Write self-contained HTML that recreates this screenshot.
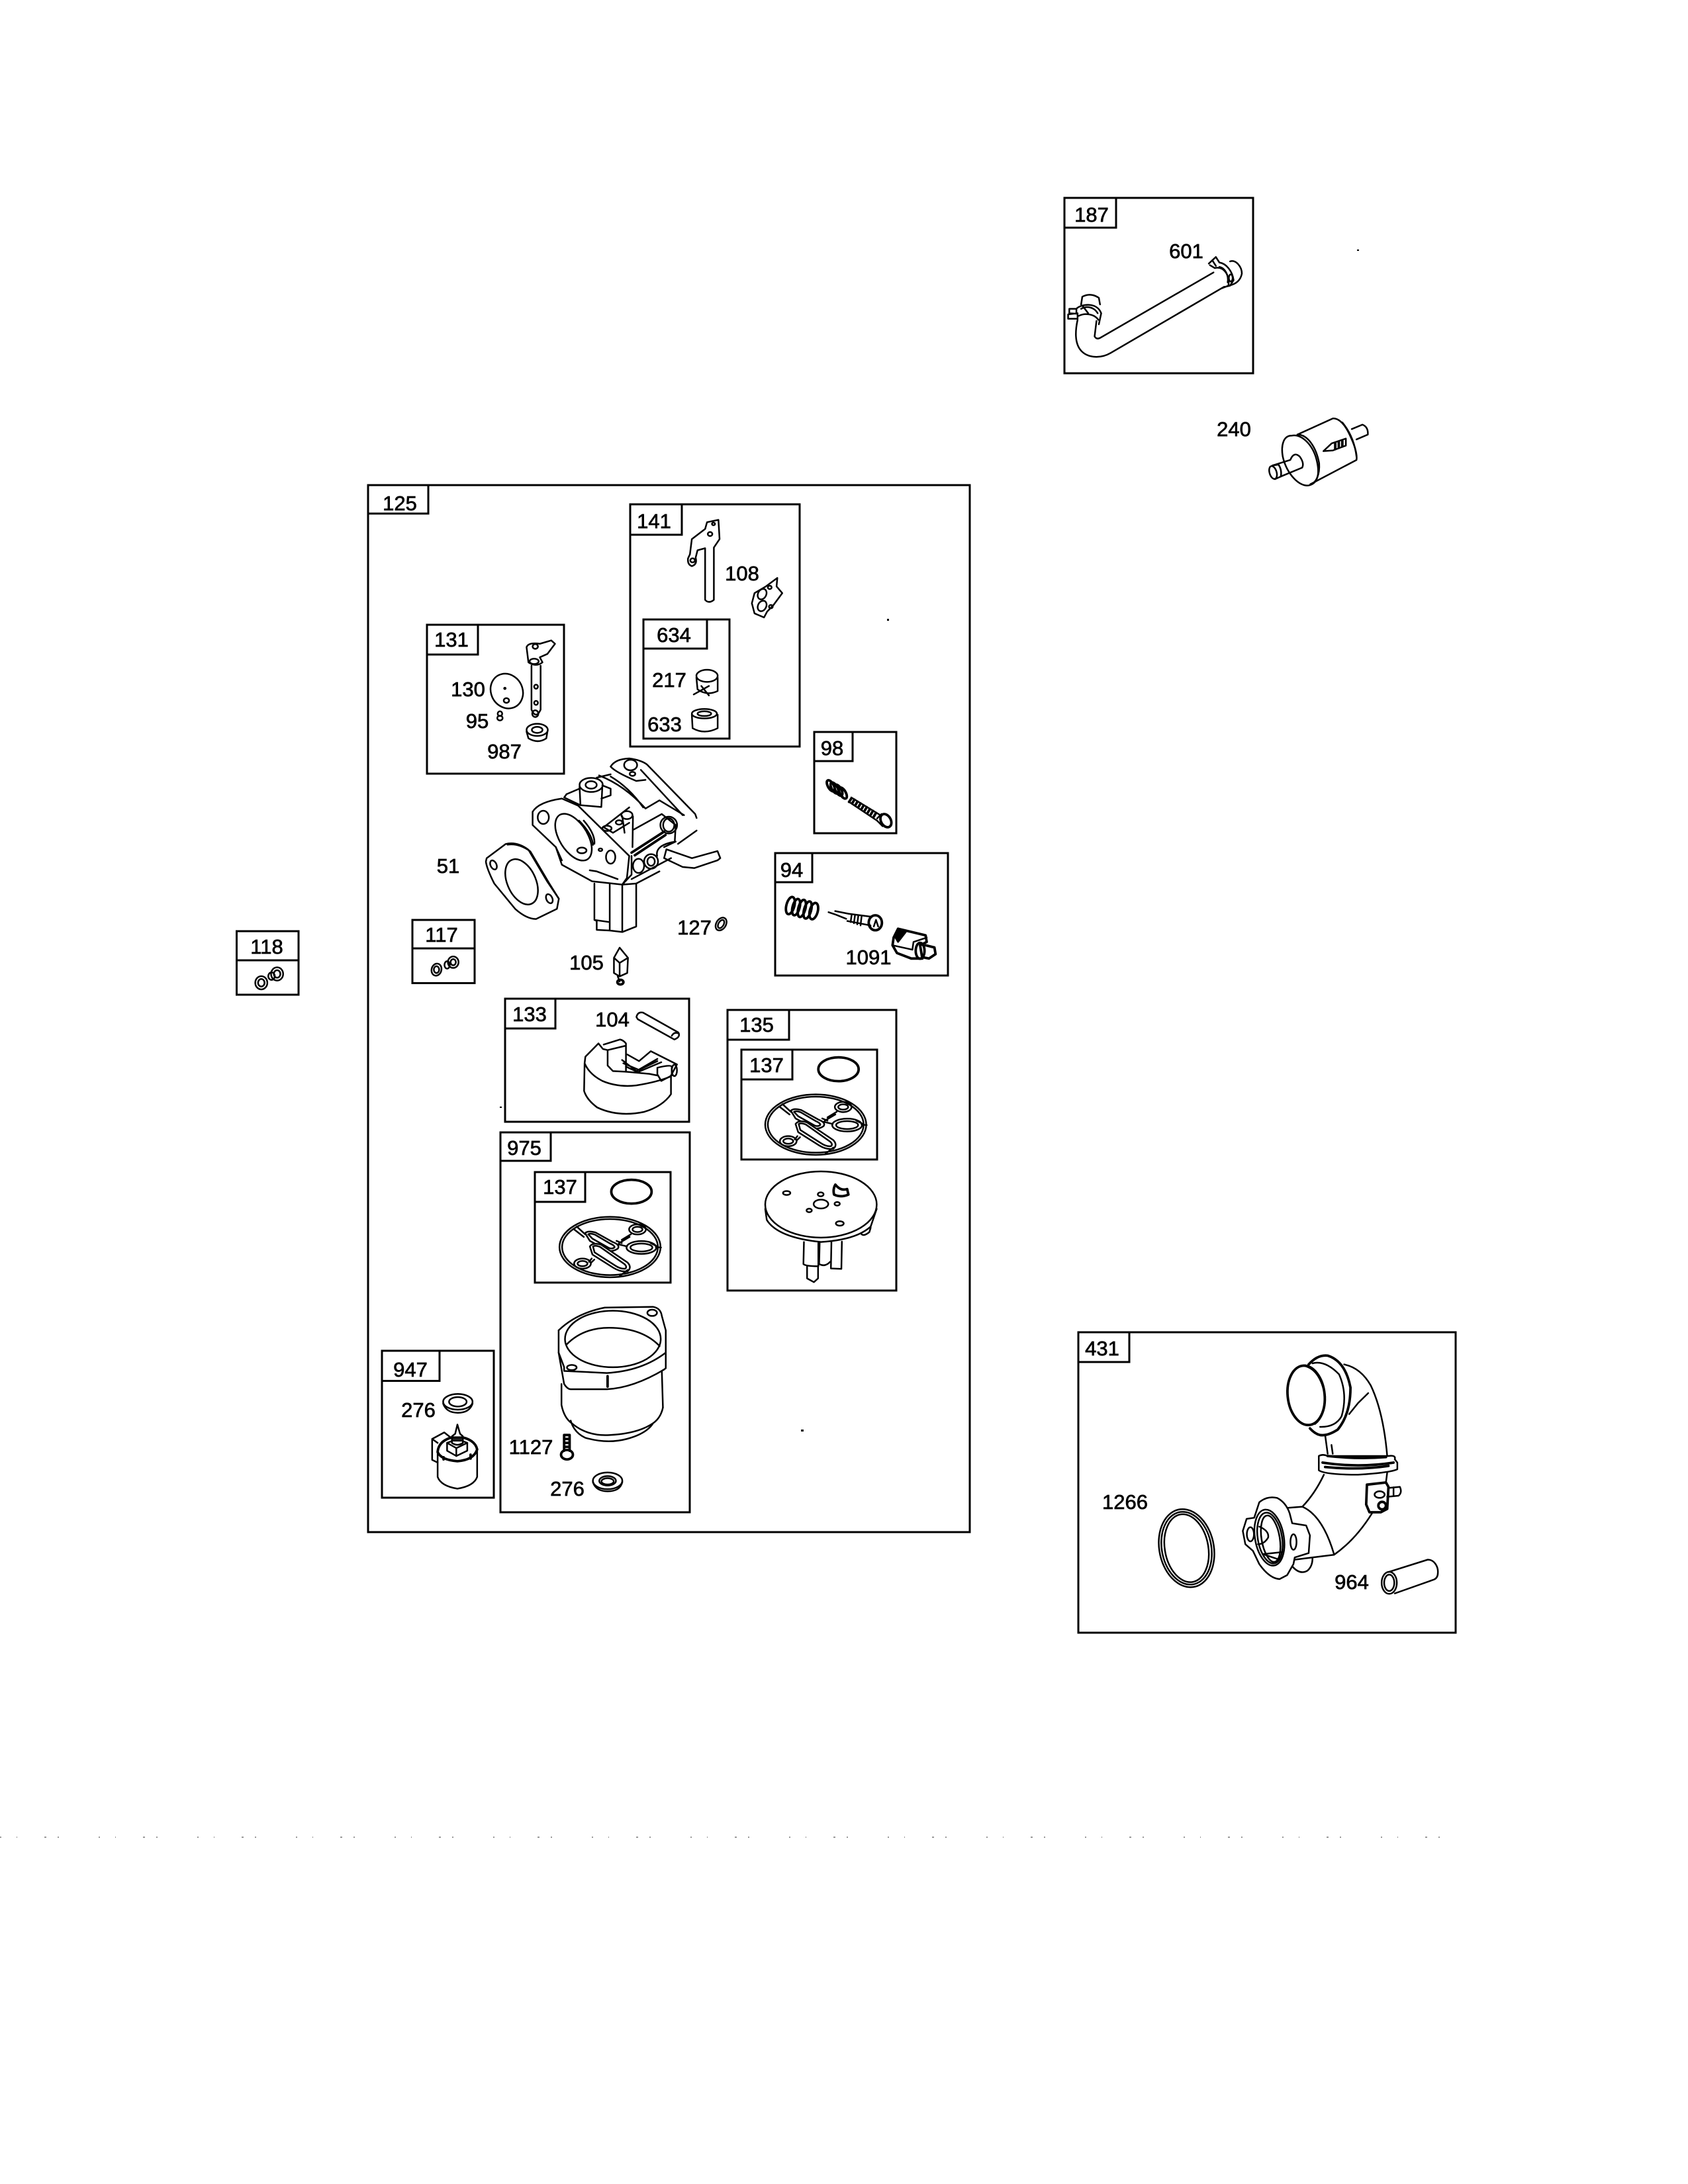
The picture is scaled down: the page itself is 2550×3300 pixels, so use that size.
<!DOCTYPE html>
<html><head><meta charset="utf-8">
<style>
html,body{margin:0;padding:0;background:#fff}
svg{display:block}
svg *{vector-effect:non-scaling-stroke}
.p{fill:none;stroke:#000;stroke-width:2.500;stroke-linejoin:round;stroke-linecap:round}
.t{stroke-width:3.8}
.f{fill:#fff}
.k{fill:#000}
.b{fill:none;stroke:#000;stroke-width:3}
text{font-family:"Liberation Sans",sans-serif;font-size:31px;text-anchor:middle;fill:#000;stroke:#000;stroke-width:.7}
</style></head><body>
<svg xmlns="http://www.w3.org/2000/svg" width="2550" height="3300" viewBox="0 0 2550 3300">
<rect width="2550" height="3300" fill="#fff"/>
<defs>
<g id="gk" class="p">
<ellipse cx="1245" cy="658" rx="193" ry="137"/>
<ellipse cx="1245" cy="658" rx="183" ry="127"/>
<ellipse cx="1350" cy="578" rx="32" ry="23"/><ellipse cx="1350" cy="578" rx="19" ry="12"/>
<ellipse cx="1365" cy="660" rx="57" ry="29"/><ellipse cx="1365" cy="660" rx="42" ry="18"/>
<ellipse cx="1140" cy="733" rx="32" ry="23"/><ellipse cx="1140" cy="733" rx="19" ry="12"/>
<path class="f" d="M1150 595Q1160 582 1190 592L1255 635Q1285 648 1275 665Q1250 685 1228 668L1168 630Z"/>
<path d="M1162 600Q1170 594 1188 602L1245 642Q1265 652 1262 660Q1250 670 1235 658L1178 620Z"/>
<path class="f" d="M1168 655Q1180 635 1212 648L1312 728Q1330 750 1312 768Q1285 772 1258 752L1178 692Z"/>
<path d="M1180 655Q1190 648 1208 658L1300 735Q1312 748 1303 756Q1285 758 1265 742L1186 682Z"/>
<path d="M1118 565L1150 600M1108 578L1145 612M1290 625L1325 600M1280 640L1320 612M1275 645L1310 655M1175 710L1165 725M1185 715L1172 730M1312 762L1282 790M1420 658L1440 660M1400 640L1425 655M1270 630L1290 640"/>
</g>
</defs>

<!-- boxes -->
<g class="b">
<rect x="1608" y="299" width="285" height="265"/><path d="M1608 344H1686V299"/>
<rect x="556" y="733" width="909" height="1582"/><path d="M556 776H647V733"/>
<rect x="952" y="762" width="256" height="366"/><path d="M952 808H1030V762"/>
<rect x="972" y="936" width="130" height="180"/><path d="M972 980H1068V936"/>
<rect x="645" y="944" width="207" height="225"/><path d="M645 989H722V944"/>
<rect x="1230" y="1106" width="124" height="153"/><path d="M1230 1150H1288V1106"/>
<rect x="1171" y="1289" width="261" height="185"/><path d="M1171 1333H1227V1289"/>
<rect x="623" y="1390" width="94" height="95.500"/><path d="M623 1433H717"/>
<rect x="357.500" y="1407" width="93.500" height="96"/><path d="M357.500 1451H451"/>
<rect x="763" y="1509" width="278" height="186"/><path d="M763 1554H839V1509"/>
<rect x="1099" y="1526" width="255" height="424"/><path d="M1099 1571H1192V1526"/>
<rect x="1120" y="1586" width="205" height="166"/><path d="M1120 1631H1197V1586"/>
<rect x="756" y="1711" width="286" height="574"/><path d="M756 1754H832V1711"/>
<rect x="808" y="1771" width="205" height="167"/><path d="M808 1816H884V1771"/>
<rect x="577" y="2041" width="169" height="222"/><path d="M577 2086.500H664V2041"/>
<rect x="1629" y="2013" width="570" height="454"/><path d="M1629 2058H1706V2013"/>
</g>

<!-- labels -->
<text x="1649" y="335">187</text><text x="1792" y="390">601</text><text x="1864" y="659">240</text>
<text x="604" y="771">125</text><text x="988" y="798">141</text><text x="1121" y="877">108</text>
<text x="1018" y="970">634</text><text x="1011" y="1038">217</text><text x="1004" y="1105">633</text>
<text x="682" y="977">131</text><text x="707" y="1052">130</text><text x="721" y="1100">95</text>
<text x="762" y="1146">987</text><text x="1257" y="1141">98</text><text x="1196" y="1325">94</text>
<text x="1312" y="1457">1091</text><text x="677" y="1319">51</text><text x="1049" y="1412">127</text>
<text x="667" y="1423">117</text><text x="886" y="1465">105</text><text x="403" y="1441">118</text>
<text x="800" y="1543">133</text><text x="925" y="1551">104</text><text x="1143" y="1559">135</text>
<text x="1158" y="1620">137</text><text x="792" y="1745">975</text><text x="846" y="1804">137</text>
<text x="620" y="2080">947</text><text x="632" y="2141">276</text><text x="802" y="2197">1127</text>
<text x="857" y="2260">276</text><text x="1665" y="2048">431</text><text x="1699.500" y="2280">1266</text>
<text x="2042" y="2401">964</text>

<!-- hose and filter -->
<g class="p" transform="translate(1560 270) scale(.3571 .3333)">
<path d="M190 640C178 700 180 750 205 780C235 815 290 815 330 790L810 490"/>
<path d="M270 645L262 715Q270 730 285 722L765 425"/>
<path d="M835 375C860 365 885 400 885 430C880 460 860 478 830 485"/>
<path d="M770 405C810 395 835 440 828 485L800 497"/>
<path d="M745 385L775 355L790 380C820 385 845 420 850 460L835 485L815 490"/>
<path d="M750 392L770 405M760 370L775 395M790 400C815 405 830 440 825 470"/>
<ellipse cx="838" cy="450" rx="8" ry="16"/>
<path d="M205 570L210 535Q245 515 280 540L285 570"/>
<path d="M185 590C200 570 270 555 290 610L280 660"/>
<path d="M150 615L190 610L190 635L150 635ZM155 590L185 590L185 612L155 610Z"/>
<path d="M195 622C220 608 260 612 278 640M205 590C230 575 260 582 275 610M210 575L235 610"/>
<path d="M1120 1160L1270 1087Q1310 1085 1345 1170Q1375 1240 1370 1275L1175 1385"/>
<path d="M1095 1165C1060 1165 1050 1210 1058 1260C1075 1340 1130 1400 1170 1390C1210 1380 1215 1330 1200 1270C1185 1210 1140 1155 1095 1165Z"/>
<path d="M1120 1160C1165 1160 1200 1220 1212 1290C1215 1340 1200 1380 1175 1385"/>
<path d="M1310 1105Q1360 1170 1370 1260"/>
<path d="M1015 1300L1090 1275Q1105 1235 1130 1260Q1150 1290 1140 1310L1050 1350"/>
<ellipse cx="1017" cy="1332" rx="15" ry="30" transform="rotate(-15 1017 1332)"/>
<path d="M1015 1300L1040 1296Q1055 1320 1050 1350L1025 1362"/>
<path d="M1350 1135L1395 1115Q1420 1125 1418 1160L1370 1182"/>
<path d="M1230 1235L1265 1200L1325 1178L1325 1210L1270 1232Z"/>
<path class="t" d="M1280 1200V1226M1295 1194V1220M1310 1188V1214"/>
</g>

<!-- main group, zoom 2 coords -->
<g class="p" transform="translate(540 710) scale(.574 .5102)">
<path d="M875 250L880 205L915 175L920 155L950 148L953 205L938 230L938 385Q925 397 915 385L915 232L895 238L890 260Q895 280 880 285Q868 280 870 262Z"/>
<ellipse cx="937" cy="160" rx="4" ry="4"/><ellipse cx="928" cy="190" rx="6" ry="6"/><ellipse cx="882" cy="268" rx="6" ry="6"/>
<path d="M1045 365L1075 345L1105 320L1103 345L1118 365L1095 400L1078 420L1070 437L1045 425L1038 395Z"/>
<ellipse cx="1065" cy="368" rx="11" ry="16" transform="rotate(20 1065 368)"/><ellipse cx="1065" cy="403" rx="11" ry="16" transform="rotate(20 1065 403)"/>
<ellipse cx="1085" cy="348" rx="5" ry="5"/><ellipse cx="1088" cy="405" rx="5" ry="5"/>
<ellipse cx="920" cy="610" rx="28" ry="18"/>
<path d="M892 615L895 650Q920 670 948 655L948 615M885 665L925 640M905 640L925 668"/>
<ellipse cx="913" cy="722" rx="33" ry="14"/><ellipse cx="913" cy="722" rx="18" ry="7"/>
<path d="M880 725L882 765Q913 785 948 765L948 725"/>
<path d="M458 580L458 710Q470 740 482 710L482 580"/>
<path d="M445 525Q450 510 480 515L510 505L520 515L500 545L480 555L487 570Q470 585 450 570Z"/>
<ellipse cx="468" cy="523" rx="7" ry="7"/><ellipse cx="465" cy="567" rx="12" ry="8"/><ellipse cx="470" cy="642" rx="5" ry="6"/><ellipse cx="470" cy="690" rx="5" ry="6"/><ellipse cx="468" cy="722" rx="8" ry="10"/>
<ellipse cx="393" cy="655" rx="42" ry="52" transform="rotate(-15 393 655)"/><ellipse cx="392" cy="683" rx="7" ry="7"/><ellipse cx="388" cy="647" rx="2" ry="2"/>
<ellipse cx="375" cy="722" rx="6" ry="7"/><ellipse cx="375" cy="735" rx="7" ry="7"/>
<ellipse cx="473" cy="770" rx="28" ry="18"/><ellipse cx="473" cy="770" rx="14" ry="9"/>
<path d="M445 775L450 795Q475 812 497 795L500 775"/>

<path d="M340 1150L390 1108Q420 1100 450 1125L500 1220L530 1270L525 1300L470 1330Q445 1330 415 1300L360 1225Q340 1180 338 1160Z"/>
<path d="M395 1110Q425 1105 455 1130L505 1225L530 1270"/>
<ellipse cx="432" cy="1220" rx="38" ry="70" transform="rotate(-20 432 1220)"/>
<ellipse cx="358" cy="1170" rx="8" ry="14" transform="rotate(-20 358 1170)"/><ellipse cx="505" cy="1270" rx="8" ry="14" transform="rotate(-20 505 1270)"/>
<ellipse cx="957" cy="1345" rx="13" ry="20" transform="rotate(25 957 1345)"/><ellipse cx="957" cy="1345" rx="7" ry="13" transform="rotate(25 957 1345)"/>
<path d="M690 1415L675 1445L675 1490L690 1500L710 1490L712 1445ZM675 1445L690 1460L712 1445M690 1460V1500M685 1500L690 1515"/>
<ellipse class="t" cx="692" cy="1517" rx="8" ry="7"/>
<ellipse cx="208" cy="1480" rx="13" ry="18" transform="rotate(10 208 1480)"/><ellipse cx="208" cy="1480" rx="7" ry="10"/>
<ellipse cx="252" cy="1458" rx="14" ry="17"/><ellipse cx="252" cy="1458" rx="7" ry="9"/><ellipse cx="236" cy="1466" rx="7" ry="11"/>
</g>

<!-- carburetor and 118 nuts, zoom 3 coords -->
<g class="p" transform="translate(340 1080) scale(.7018 .3333)">
<ellipse cx="78" cy="1215" rx="13" ry="30"/><ellipse cx="78" cy="1215" rx="7" ry="17"/>
<ellipse cx="112" cy="1175" rx="13" ry="30"/><ellipse cx="112" cy="1175" rx="7" ry="17"/><ellipse cx="100" cy="1185" rx="7" ry="17"/>

<path d="M830 235Q840 200 870 198Q895 205 908 225L1012 450L1015 468M895 250L985 455"/>
<path d="M830 235Q840 260 885 300L905 295"/>
<ellipse cx="873" cy="228" rx="14" ry="24"/><ellipse cx="877" cy="268" rx="6" ry="9"/>
<path d="M805 275Q860 320 905 425M830 280Q870 330 900 420M905 425L935 388L988 455M800 285L830 270"/>
<path d="M870 420L815 510L835 535L870 490M880 520L940 450L970 500L968 575M975 585L1015 525"/>
<path class="t" d="M875 625L945 530M882 637L948 545"/>
<ellipse cx="955" cy="500" rx="18" ry="38"/><ellipse cx="955" cy="500" rx="12" ry="30"/>
<path d="M855 460L860 535M878 460L877 600"/>
<ellipse cx="865" cy="455" rx="12" ry="18"/><ellipse cx="848" cy="488" rx="7" ry="10"/><ellipse cx="822" cy="515" rx="10" ry="12"/>
<path d="M930 640Q925 590 970 575L945 600"/>
<path class="f" d="M950 610L1005 650L1060 618L1066 650L1060 660L1010 695L985 690L945 650Z"/>
<ellipse cx="788" cy="318" rx="25" ry="32"/><ellipse cx="788" cy="318" rx="12" ry="17"/>
<path d="M763 325L765 410L810 418M812 330L810 415M735 360L763 335M735 360L730 375L765 410M812 320L830 335L830 365L810 380"/>
<path class="f" d="M662 500L662 440Q675 395 725 380L760 412L870 640L865 740L855 770L790 755L725 680L712 600Z"/>
<ellipse cx="750" cy="555" rx="33" ry="108" transform="rotate(-12 750 555)"/>
<path d="M762 480Q790 540 792 590M772 480Q797 540 795 585"/>
<ellipse cx="685" cy="465" rx="12" ry="30"/><ellipse cx="768" cy="615" rx="10" ry="13"/><ellipse cx="808" cy="612" rx="4" ry="6"/><ellipse cx="830" cy="645" rx="10" ry="30"/>
<path d="M712 600L725 660"/>
<path d="M875 640L875 725L855 770L885 765L935 710M875 745L960 650"/>
<ellipse cx="890" cy="685" rx="12" ry="32"/><ellipse cx="917" cy="665" rx="15" ry="33"/><ellipse cx="917" cy="665" rx="8" ry="20"/>
<path d="M785 705L800 710L845 745"/>
<path d="M795 765L795 930L800 935L800 975L828 978L855 985L885 960L885 765M828 770L828 978M855 770L855 985M795 930L828 940"/>
</g>

<!-- 98 and 94 zoom 7 -->
<g class="p" transform="translate(1160 1070) scale(.3333)">
<g class="t">
<ellipse cx="285" cy="352" rx="13" ry="28" transform="rotate(-30 285 352)"/><ellipse cx="302" cy="362" rx="13" ry="28" transform="rotate(-30 302 362)"/><ellipse cx="320" cy="372" rx="13" ry="28" transform="rotate(-30 320 372)"/><ellipse cx="340" cy="385" rx="13" ry="28" transform="rotate(-30 340 385)"/>
</g>
<path class="t" d="M378 410L368 425M392 415L382 432M406 424L396 441M420 432L410 449M434 441L424 458M448 449L438 466M462 458L452 475M476 466L466 483M490 475L480 492"/>
<path d="M378 405L510 485M368 425L495 510"/>
<ellipse class="t" cx="535" cy="510" rx="22" ry="32" transform="rotate(-30 535 510)"/>
<path d="M495 500L515 480M495 510L520 535"/>
<g class="t">
<ellipse cx="102" cy="895" rx="18" ry="40" transform="rotate(15 102 895)"/><ellipse cx="128" cy="902" rx="16" ry="38" transform="rotate(15 128 902)"/><ellipse cx="154" cy="908" rx="16" ry="40" transform="rotate(15 154 908)"/><ellipse cx="180" cy="915" rx="16" ry="40" transform="rotate(15 180 915)"/><ellipse cx="208" cy="920" rx="18" ry="38" transform="rotate(15 208 920)"/>
</g>
<path d="M275 925L305 935L355 955M305 920L365 932L465 945M360 965L465 985M380 935L375 970M395 938L390 975M410 940L405 980M425 942L420 985"/>
<ellipse class="t" cx="487" cy="973" rx="30" ry="34"/>
<path d="M465 945Q450 970 465 988M480 990L490 960L500 990"/>
<path class="t" d="M570 1040L590 1000L715 1030L720 1060L690 1075L700 1135L650 1135L585 1110L565 1075Z"/>
<path class="k" d="M590 1000L625 1015L590 1060L578 1040Z"/>
<path d="M565 1075L655 1095M655 1095L660 1060L720 1040"/>
<ellipse class="t" cx="690" cy="1100" rx="20" ry="36"/>
<path class="t" d="M715 1075L755 1085L760 1115L730 1135L705 1130"/>
</g>

<!-- zoom 4: 133, 135 -->
<g class="p" transform="translate(740 1480) scale(.3954 .3333)">
<path d="M560 170Q565 145 585 150L720 240Q730 260 705 272L565 180Z"/>
<path d="M695 255Q705 235 722 245"/>
<path d="M415 290L365 350L362 380Q380 430 430 460Q490 490 560 480Q640 465 690 440L715 385L615 325L570 370L525 340"/>
<path d="M362 380L360 505Q370 545 410 580Q490 625 590 600Q660 575 692 520L692 440"/>
<path d="M415 290L432 315L450 320L450 390L470 415L520 418L520 290Q510 275 497 272L435 295M450 320L520 300"/>
<path d="M505 365L560 415L640 360M510 380L570 410L640 370M520 395L565 420L655 375M520 418L610 428L640 435"/>
<path d="M640 400Q690 385 695 395L695 435L655 460L640 430Z"/>
<ellipse cx="705" cy="412" rx="10" ry="26"/>

<ellipse class="t" cx="1332" cy="407" rx="77" ry="54"/>
<use href="#gk"/>
<ellipse class="t" cx="541" cy="962" rx="77" ry="54"/>
<use href="#gk" x="-786" y="555"/>

<ellipse cx="1265" cy="1020" rx="213" ry="150"/>
<path d="M1052 1040L1058 1090Q1100 1170 1265 1190Q1400 1180 1455 1120L1478 1040"/>
<ellipse cx="1134" cy="968" rx="14" ry="9"/><ellipse cx="1264" cy="974" rx="11" ry="9"/><ellipse cx="1265" cy="1018" rx="28" ry="20"/><ellipse cx="1327" cy="1017" rx="10" ry="8"/><ellipse cx="1220" cy="1047" rx="10" ry="8"/><ellipse cx="1337" cy="1106" rx="15" ry="10"/>
<path class="t" d="M1320 930Q1310 950 1315 975Q1340 990 1370 975L1365 950Q1340 960 1320 930Z"/>
<path d="M1200 1190L1198 1290Q1205 1300 1255 1300L1255 1195M1212 1300L1212 1355L1238 1372L1254 1355L1254 1300M1260 1195L1258 1290Q1280 1305 1300 1280M1305 1190L1303 1310L1343 1312L1345 1188M1420 1155Q1430 1165 1450 1145L1455 1125"/>
</g>

<!-- zoom 5: bowl, 947 -->
<g class="p" transform="translate(552 1680) scale(.3317 .3954)">
<path d="M880 835Q960 770 1090 748L1310 745Q1345 750 1350 780L1368 835L1368 980L1350 990L1355 1130"/>
<path d="M880 835L880 920L905 1040Q920 1060 935 1060L1100 1060Q1220 1055 1360 985"/>
<path d="M880 920L905 975L905 990L1100 998Q1260 990 1368 920"/>
<ellipse cx="1127" cy="868" rx="218" ry="108"/>
<path d="M915 890Q990 825 1110 825Q1260 825 1340 895"/>
<ellipse cx="1306" cy="768" rx="22" ry="12"/><ellipse cx="940" cy="977" rx="22" ry="10"/>
<path class="t" d="M1103 1010V1050"/>
<path d="M893 1040L893 1120Q905 1170 940 1190Q1010 1240 1110 1235Q1240 1230 1310 1190Q1345 1170 1355 1130"/>
<path d="M935 1180Q950 1225 1000 1245Q1100 1270 1190 1250Q1280 1230 1310 1190"/>
<ellipse cx="1103" cy="1410" rx="67" ry="32"/><ellipse cx="1103" cy="1410" rx="38" ry="18"/><ellipse cx="1103" cy="1412" rx="28" ry="12"/>
<path d="M1036 1415Q1050 1450 1103 1450Q1160 1450 1170 1415"/>
<path class="t" d="M905 1235H930V1295M905 1235V1295M905 1250H930M905 1265H930M905 1280H930"/>
<ellipse class="t" cx="918" cy="1310" rx="27" ry="18"/>
</g>
<g class="p" transform="translate(550 1680) scale(.3317 .3954)">
<ellipse cx="427" cy="1108" rx="67" ry="30"/><ellipse cx="427" cy="1108" rx="40" ry="18"/>
<path d="M360 1115Q375 1150 427 1150Q480 1150 494 1115"/>
<path d="M335 1300L335 1395Q350 1430 425 1440Q500 1430 515 1395L515 1290"/>
<path class="t" d="M335 1300Q340 1250 425 1240Q505 1250 515 1290Q500 1330 425 1335Q350 1330 335 1300"/>
<path class="f" d="M378 1265L378 1295L420 1315L470 1295L470 1265L425 1250Z"/>
<path d="M420 1285V1315M378 1265L420 1285L470 1265"/>
<path class="f" d="M425 1195L415 1230L400 1240L400 1265Q425 1280 450 1265L450 1240L437 1230Z"/>
<path class="t" d="M402 1245H448M402 1255H448"/>
<path d="M310 1250L365 1225L395 1245M310 1250L310 1330L335 1340M310 1250L335 1265"/>
<path class="t" d="M362 1320V1328M485 1310V1325"/>
</g>

<!-- zoom 6: 431 -->
<g class="p" transform="translate(1600 1980) scale(.3827 .3333)">
<path class="t" d="M985 245Q1020 200 1060 205Q1130 230 1150 350Q1150 470 1100 540Q1060 570 1030 565Q1010 560 990 535"/>
<ellipse class="t" cx="975" cy="385" rx="73" ry="135" transform="rotate(-5 975 385)"/>
<path d="M960 250Q1030 260 1050 390Q1050 480 1010 515"/>
<path d="M1000 240Q1050 225 1105 290Q1140 380 1115 480Q1090 530 1030 528"/>
<path d="M1125 245Q1190 260 1230 340Q1280 460 1295 660"/>
<path d="M1050 565L1060 650M1075 610L1080 650M1220 375L1180 420L1145 470"/>
<path d="M1025 660Q1040 650 1060 660L1300 660Q1330 655 1325 675L1335 690L1335 720Q1310 735 1180 745Q1050 745 1025 725L1025 685Z"/>
<path class="t" d="M1060 660Q1180 675 1290 665M1040 690Q1180 715 1320 690M1050 710Q1180 725 1300 705"/>
<path d="M1045 745Q1010 830 960 890L905 895M960 890Q1040 930 1085 1105M1295 735L1290 780M1235 920Q1170 1040 1085 1108L930 1130"/>
<path class="t" d="M1215 790L1290 780L1300 800L1295 900L1270 915L1225 915L1212 880Z"/>
<path d="M1300 805L1345 800Q1355 825 1340 840L1295 845M1320 802V842"/>
<ellipse class="t" cx="1275" cy="885" rx="15" ry="17"/><ellipse cx="1265" cy="835" rx="20" ry="15"/>
<path class="f" d="M790 870Q820 840 860 850Q895 870 910 920L920 965L975 975L990 1020L985 1100L930 1120L925 1150L900 1200L870 1218Q830 1215 790 1150L765 1090L735 1060L725 1000L740 945L770 940Z"/>
<ellipse cx="830" cy="1030" rx="57" ry="128" transform="rotate(-8 830 1030)"/>
<ellipse cx="832" cy="1032" rx="48" ry="116" transform="rotate(-8 832 1032)"/>
<ellipse cx="835" cy="1035" rx="36" ry="106" transform="rotate(-8 835 1035)"/>
<ellipse cx="755" cy="1015" rx="14" ry="32"/><ellipse cx="925" cy="1050" rx="12" ry="35"/>
<path d="M790 980Q830 1000 825 1030Q810 1060 785 1060M805 1105L885 1095M805 1105L870 1130M920 1160Q950 1200 980 1180Q1000 1160 1000 1125"/>
<ellipse cx="503" cy="1078" rx="108" ry="178" transform="rotate(-8 503 1078)"/>
<ellipse cx="503" cy="1078" rx="98" ry="166" transform="rotate(-8 503 1078)"/>
<ellipse cx="503" cy="1078" rx="86" ry="155" transform="rotate(-8 503 1078)"/>
<ellipse cx="1303" cy="1235" rx="30" ry="50"/><ellipse cx="1303" cy="1235" rx="20" ry="37"/>
<path d="M1300 1186L1455 1130C1480 1130 1497 1160 1495 1190C1495 1205 1490 1215 1480 1220L1325 1283"/>
</g>

<!-- scan specks -->
<g fill="#000">
<rect x="2050" y="377" width="3" height="2"/><rect x="1210" y="2160" width="4" height="3"/><rect x="1340" y="935" width="3" height="3"/><rect x="755" y="1672" width="3" height="2"/>
</g>
<path d="M0 2776H2210" fill="none" stroke="#777" stroke-width="1.500" stroke-dasharray="2 23 1 41 3 17 2 60"/>
</svg>
</body></html>
